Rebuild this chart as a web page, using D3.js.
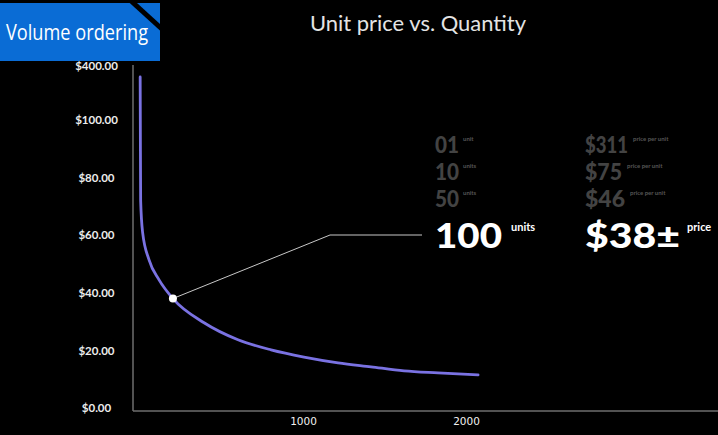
<!DOCTYPE html>
<html>
<head>
<meta charset="utf-8">
<script src="https://cdn.jsdelivr.net/npm/d3@7"></script>
<style>
  html, body { margin: 0; padding: 0; background: #000; }
  svg { display: block; }
</style>
</head>
<body>
<svg id="chart" width="718" height="435"></svg>
<script>
// curve (quantity, unit price)
const quantities = [1, 2, 4, 16, 55, 117, 202, 393, 601, 804, 1006, 1215, 1417, 1620, 1828, 2074];
const prices = [339, 100, 72, 61, 51.5, 44.5, 38, 29.6, 23.7, 20.2, 17.7, 15.7, 14.3, 12.9, 12.2, 11.5];

// highlighted point
const markQty = 202;
const markPrice = 38;

const yTicks = [0, 20, 40, 60, 80, 100, 400];
const xTicks = [1000, 2000];

// right hand table
const tierUnits = ["01", "10", "50"];
const tierUnitNotes = ["unit", "units", "units"];
const tierPrices = ["$311", "$75", "$46"];
const tierPriceNote = "price per unit";
const currentUnits = "100";
const currentPrice = "$38±";

const svg = d3.select("#chart");
const width = 718;
const height = 435;

svg.append("rect").attr("width", width).attr("height", height).attr("fill", "#000");

// broken y scale: 0-100 linear, then squeezed up to 400
const y = d3.scaleLinear().domain([0, 100, 400]).range([408, 120, 66]);
const x = d3.scaleLinear().domain([0, 2000]).range([140, 466]);

// axis lines
svg.append("line")
    .attr("x1", 133).attr("x2", 133)
    .attr("y1", 65).attr("y2", 411)
    .attr("stroke", "#6e6e6e").attr("stroke-width", 1.5);
svg.append("line")
    .attr("x1", 133).attr("x2", width)
    .attr("y1", 411).attr("y2", 411)
    .attr("stroke", "#6e6e6e").attr("stroke-width", 1.5);

const yAxis = svg.append("g")
    .attr("transform", "translate(133,0)")
    .call(d3.axisLeft(y).tickValues(yTicks).tickSize(0).tickFormat(d3.format("$.2f")));
yAxis.select(".domain").remove();
yAxis.selectAll("text")
    .attr("x", -36.5)
    .attr("text-anchor", "middle")
    .attr("fill", "#ececec")
    .style("font-family", "Lato, sans-serif")
    .style("font-weight", "700")
    .style("font-size", "11.5px");

const xAxis = svg.append("g")
    .attr("transform", "translate(0,411)")
    .call(d3.axisBottom(x).tickValues(xTicks).tickSize(0).tickFormat(d3.format("d")));
xAxis.select(".domain").remove();
xAxis.selectAll("text")
    .attr("y", 7)
    .attr("fill", "#f0f0f0")
    .style("font-family", "'DejaVu Sans', sans-serif")
    .style("font-size", "10.5px");

// price curve
const points = quantities.map((q, i) => [q, prices[i]]);
const line = d3.line()
    .x(d => x(d[0]))
    .y(d => y(d[1]))
    .curve(d3.curveMonotoneX);

svg.append("path")
    .datum(points)
    .attr("d", line)
    .attr("fill", "none")
    .attr("stroke", "#7a72e2")
    .attr("stroke-width", 2.8)
    .attr("stroke-linecap", "round");

// leader line to the callout
const mx = x(markQty);
const my = y(markPrice);
svg.append("polyline")
    .attr("points", [[mx, my], [330, 235], [422, 235]].map(p => p.join(",")).join(" "))
    .attr("fill", "none")
    .attr("stroke", "#c8c8c8")
    .attr("stroke-width", 1);

svg.append("circle")
    .attr("cx", mx).attr("cy", my).attr("r", 4)
    .attr("fill", "#fff");

// title
svg.append("text")
    .attr("x", 418).attr("y", 31)
    .attr("text-anchor", "middle")
    .attr("fill", "#e4e4e4")
    .attr("textLength", 216)
    .attr("lengthAdjust", "spacingAndGlyphs")
    .style("font-family", "Lato, sans-serif")
    .style("font-size", "21px")
    .text("Unit price vs. Quantity");

// tier rows
const rowBase = [153, 180, 207];
const grey = "#434343";
const greyNote = "#565656";
const big = "Lato, sans-serif";
const unitWidths = [24, 24, 24];
const priceWidths = [43, 37, 40];

tierUnits.forEach((u, i) => {
    svg.append("text")
        .attr("x", 435).attr("y", rowBase[i])
        .attr("fill", grey)
        .attr("textLength", unitWidths[i])
        .attr("lengthAdjust", "spacingAndGlyphs")
        .style("font-family", big).style("font-weight", "900").style("font-size", "22px")
        .text(u);
    svg.append("text")
        .attr("x", 463).attr("y", rowBase[i] - 12)
        .attr("fill", greyNote)
        .style("font-family", big).style("font-weight", "700").style("font-size", "6px")
        .text(tierUnitNotes[i]);
    svg.append("text")
        .attr("x", 585).attr("y", rowBase[i])
        .attr("fill", grey)
        .attr("textLength", priceWidths[i])
        .attr("lengthAdjust", "spacingAndGlyphs")
        .style("font-family", big).style("font-weight", "900").style("font-size", "22px")
        .text(tierPrices[i]);
});

const noteX = [633, 627, 630];
tierPrices.forEach((p, i) => {
    svg.append("text")
        .attr("x", noteX[i]).attr("y", rowBase[i] - 12)
        .attr("fill", greyNote)
        .style("font-family", big).style("font-weight", "700").style("font-size", "6px")
        .text(tierPriceNote);
});

svg.append("text")
    .attr("x", 435).attr("y", 248)
    .attr("fill", "#fff")
    .attr("textLength", 67)
    .attr("lengthAdjust", "spacingAndGlyphs")
    .style("font-family", big).style("font-weight", "900").style("font-size", "35px")
    .text(currentUnits);
svg.append("text")
    .attr("x", 511).attr("y", 231)
    .attr("fill", "#fff")
    .style("font-family", big).style("font-weight", "700").style("font-size", "11px")
    .text("units");
svg.append("text")
    .attr("x", 585).attr("y", 248)
    .attr("fill", "#fff")
    .attr("textLength", 95)
    .attr("lengthAdjust", "spacingAndGlyphs")
    .style("font-family", big).style("font-weight", "900").style("font-size", "35px")
    .text(currentPrice);
svg.append("text")
    .attr("x", 687).attr("y", 231)
    .attr("fill", "#fff")
    .style("font-family", big).style("font-weight", "700").style("font-size", "11px")
    .text("price");

// blue badge with cut corner
svg.append("rect")
    .attr("x", 0).attr("y", 3).attr("width", 160).attr("height", 58)
    .attr("fill", "#0a6cd5");
svg.append("line")
    .attr("x1", 130).attr("y1", 0).attr("x2", 163).attr("y2", 30)
    .attr("stroke", "#000").attr("stroke-width", 5);
svg.append("text")
    .attr("x", 6).attr("y", 40)
    .attr("fill", "#fff")
    .attr("textLength", 142)
    .attr("lengthAdjust", "spacingAndGlyphs")
    .style("font-family", "'Open Sans', sans-serif")
    .style("font-size", "21px")
    .text("Volume ordering");
</script>
</body>
</html>
